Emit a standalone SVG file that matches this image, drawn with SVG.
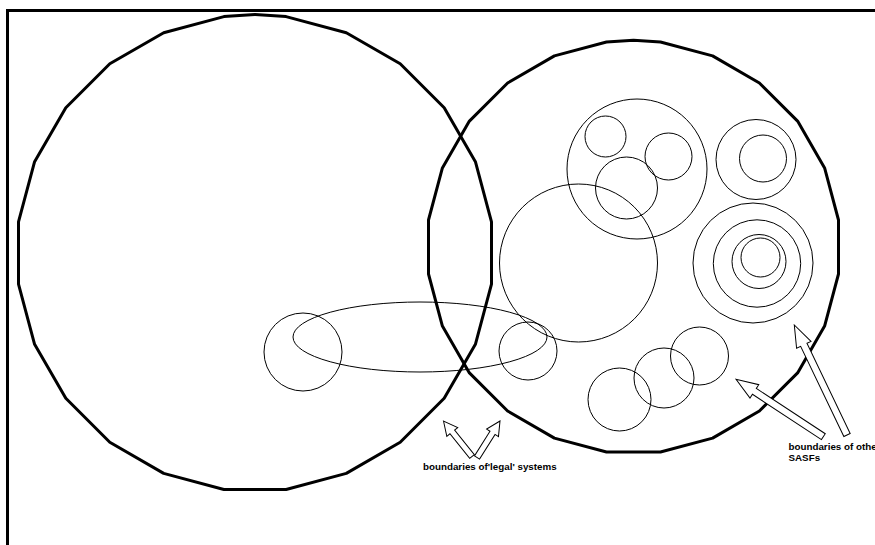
<svg xmlns="http://www.w3.org/2000/svg" width="875" height="545" viewBox="0 0 875 545">
<style>
.frame{fill:none;stroke:#000;stroke-width:3;stroke-linejoin:miter}
.big{fill:none;stroke:#000;stroke-width:3;stroke-linejoin:round}
.thin{fill:none;stroke:#000;stroke-width:1}
.arr{fill:#fff;stroke:#000;stroke-width:1;stroke-linejoin:miter}
.lbl{font-family:"Liberation Sans",Arial,sans-serif;font-weight:bold;font-size:9.8px;fill:#000}
</style>
<rect width="875" height="545" fill="#fff"/>
<path class="frame" d="M7.5,545 V10.5 H876"/>
<g id="legal-system-left">
<polygon class="big" points="255,14.5 286.1,16.6 346.3,32.7 400.2,63.8 444.2,107.8 475.4,161.7 491.5,221.9 491.5,284.1 475.4,344.3 444.2,398.2 400.2,442.2 346.3,473.4 286.1,489.5 223.9,489.5 163.7,473.4 109.8,442.2 65.8,398.2 34.6,344.3 18.5,284.1 18.5,221.9 34.6,161.7 65.8,107.8 109.8,63.8 163.7,32.7 223.9,16.6"/>
</g>
<g id="legal-system-right">
<polygon class="big" points="633.5,40.2 660.5,42 712.6,55.9 759.4,83 797.6,121.1 824.6,167.9 838.5,220 838.5,274 824.6,326.1 797.6,372.9 759.4,411 712.6,438.1 660.5,452 606.5,452 554.4,438.1 507.6,411 469.4,372.9 442.4,326.1 428.5,274 428.5,220 442.4,167.9 469.4,121.1 507.6,83 554.4,55.9 606.5,42"/>
</g>
<g id="loop">
<ellipse class="thin" cx="420" cy="337" rx="127" ry="35"/>
</g>
<g id="circle-left-small"><circle class="thin" cx="303" cy="352" r="39"/></g>
<g id="circle-mid-small"><circle class="thin" cx="528" cy="351" r="29"/></g>
<g id="circle-large"><circle class="thin" cx="578.5" cy="263" r="79"/></g>
<g id="cluster">
<circle class="thin" cx="637" cy="169" r="70"/>
<circle class="thin" cx="605.5" cy="136.5" r="20.5"/>
<circle class="thin" cx="668.5" cy="156.5" r="23.5"/>
<circle class="thin" cx="626.5" cy="188" r="31"/>
</g>
<g id="pair">
<circle class="thin" cx="756" cy="159.5" r="40"/>
<circle class="thin" cx="763" cy="158.5" r="23.5"/>
</g>
<g id="concentric">
<circle class="thin" cx="753" cy="263" r="60"/>
<circle class="thin" cx="757" cy="263.5" r="43.7"/>
<circle class="thin" cx="759" cy="261.5" r="27"/>
<circle class="thin" cx="760.5" cy="257.5" r="19.5"/>
</g>
<g id="chain">
<circle class="thin" cx="619.5" cy="399.5" r="31.5"/>
<circle class="thin" cx="664" cy="378" r="30"/>
<circle class="thin" cx="699.5" cy="356" r="29"/>
</g>
<g id="connectors">
<polygon class="arr" transform="translate(443.5,421) rotate(-128.8)" points="0,0 -14,-7 -14,-3 -45.5,-3 -45.5,3 -14,3 -14,7"/>
<polygon class="arr" transform="translate(500,421) rotate(-57.8)" points="0,0 -14,-7 -14,-3 -43.1,-3 -43.1,3 -14,3 -14,7"/>
<polygon class="arr" transform="translate(736,379.3) rotate(-146.7)" points="0,0 -22,-8 -22,-3.5 -104.5,-3.5 -104.5,3.5 -22,3.5 -22,8"/>
<polygon class="arr" transform="translate(794.3,325) rotate(-115.6)" points="0,0 -22,-8 -22,-3.5 -122,-3.5 -122,3.5 -22,3.5 -22,8"/>
</g>
<g id="label-legal">
<text class="lbl" x="423" y="470">boundaries of'legal' systems</text>
</g>
<g id="label-sasf">
<text class="lbl" x="788.5" y="450">boundaries of other</text>
<text class="lbl" x="788.5" y="460.5">SASFs</text>
</g>
</svg>
